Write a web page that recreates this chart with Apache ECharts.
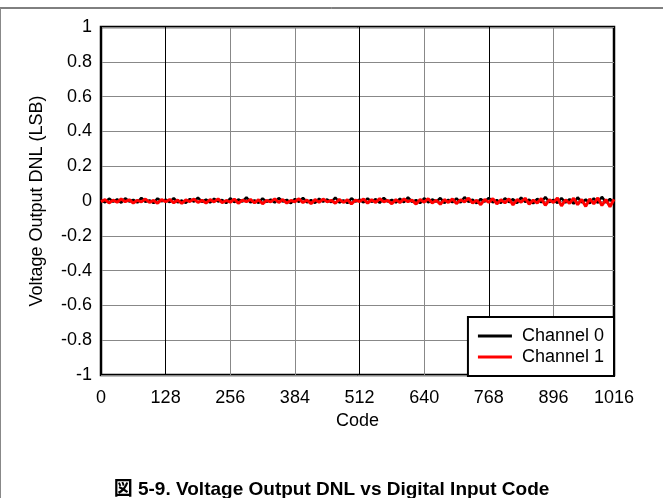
<!DOCTYPE html>
<html>
<head>
<meta charset="utf-8">
<script src="https://cdn.jsdelivr.net/npm/echarts@6/dist/echarts.min.js"></script>
<style>
html,body{margin:0;padding:0;background:#fff;}
#c{width:663px;height:498px;}
</style>
</head>
<body>
<div id="c"></div>
<script>
// Codes sampled every 8 codes from 0 to 1016
var codeStep = 8;
var codes = [];
for (var i = 0; i <= 1016; i += codeStep) codes.push(i);

var xTicks = [0, 128, 256, 384, 512, 640, 768, 896, 1016];
var yTicks = [-1, -0.8, -0.6, -0.4, -0.2, 0, 0.2, 0.4, 0.6, 0.8, 1];

var channel0 = [
0.006,-0.008,0.014,-0.004,0.010,-0.010,0.016,-0.003,0.007,-0.009,0.018,-0.005,0.004,-0.012,0.015,-0.002,
0.008,-0.007,0.017,-0.008,0.003,-0.011,0.012,-0.004,0.019,-0.005,0.008,-0.009,0.013,-0.003,0.006,-0.012,
0.016,-0.007,0.009,-0.004,0.021,-0.008,0.004,-0.011,0.015,-0.005,0.008,-0.009,0.017,-0.003,0.007,-0.013,
0.012,-0.005,0.018,-0.008,0.005,-0.011,0.013,-0.004,0.009,-0.007,0.020,-0.009,0.004,-0.012,0.016,-0.003,
0.008,-0.008,0.015,-0.005,0.011,-0.011,0.018,-0.004,0.007,-0.009,0.013,-0.007,0.021,-0.005,0.005,-0.012,
0.016,-0.008,0.009,-0.004,0.017,-0.011,0.007,-0.007,0.015,-0.009,0.022,-0.005,0.008,-0.013,0.012,-0.004,
0.018,-0.008,0.005,-0.011,0.016,-0.007,0.011,-0.012,0.020,-0.005,0.008,-0.014,0.013,-0.008,0.023,-0.007,
0.007,-0.012,0.017,-0.009,0.011,-0.016,0.021,-0.008,0.009,-0.013,0.016,-0.011,0.024,-0.009,0.012,-0.015
];
var channel1 = [
-0.003,0.008,-0.011,0.005,-0.007,0.012,-0.004,0.007,-0.012,0.004,-0.005,0.011,-0.008,0.003,-0.013,0.008,
-0.004,0.009,-0.010,0.005,-0.014,0.007,-0.003,0.011,-0.008,0.004,-0.012,0.008,-0.005,0.012,-0.009,0.003,
-0.007,0.011,-0.013,0.005,-0.004,0.009,-0.011,0.007,-0.016,0.004,-0.005,0.012,-0.008,0.008,-0.012,0.003,
-0.004,0.013,-0.009,0.005,-0.015,0.008,-0.007,0.011,-0.005,0.004,-0.013,0.009,-0.008,0.007,-0.017,0.005,
-0.003,0.011,-0.012,0.007,-0.008,0.014,-0.005,0.004,-0.016,0.008,-0.009,0.012,-0.004,0.005,-0.018,0.009,
-0.007,0.013,-0.011,0.004,-0.019,0.008,-0.008,0.012,-0.015,0.007,-0.005,0.016,-0.012,0.005,-0.021,0.009,
-0.008,0.014,-0.017,0.007,-0.011,0.013,-0.022,0.008,-0.007,0.016,-0.018,0.005,-0.012,0.014,-0.025,0.008,
-0.009,0.017,-0.028,0.007,-0.013,0.016,-0.021,0.009,-0.031,0.012,-0.016,0.018,-0.026,0.008,-0.033,0.010
];

function pairs(vals) {
  var out = [];
  for (var k = 0; k < codes.length; k++) out.push([codes[k], vals[k]]);
  return out;
}

var FONT = '"Liberation Sans", Arial, "Noto Sans CJK JP", sans-serif';

var chart = echarts.init(document.getElementById('c'), null, {renderer: 'canvas'});
chart.setOption({
  animation: false,
  backgroundColor: '#fff',
  textStyle: {fontFamily: FONT},
  title: {
    text: '図 5-9. Voltage Output DNL vs Digital Input Code',
    left: 'center',
    top: 480,
    padding: 0,
    textStyle: {fontFamily: FONT, fontSize: 19, fontWeight: 'bold', color: '#000'}
  },
  graphic: [
    {type: 'line', shape: {x1: 0, y1: 8, x2: 663, y2: 8}, style: {stroke: '#000', lineWidth: 1}, silent: true},
    {type: 'line', shape: {x1: 0.5, y1: 8, x2: 0.5, y2: 498}, style: {stroke: '#888', lineWidth: 1}, silent: true}
  ],
  grid: {
    left: 101, right: 49, top: 27, bottom: 123,
    show: true, borderColor: '#000', borderWidth: 2.5, backgroundColor: 'transparent'
  },
  legend: {
    orient: 'vertical',
    right: 49,
    bottom: 122,
    backgroundColor: '#fff',
    borderColor: '#000',
    borderWidth: 2,
    borderRadius: 0,
    padding: [10, 10, 10, 10],
    itemGap: 3,
    itemWidth: 34,
    itemHeight: 3,
    icon: 'rect',
    textStyle: {fontFamily: FONT, fontSize: 18, color: '#000', lineHeight: 18, padding: [0, 0, 0, 5]},
    data: ['Channel 0', 'Channel 1']
  },
  xAxis: {
    type: 'value',
    min: 0, max: 1016,
    name: 'Code',
    nameLocation: 'middle',
    nameGap: 35,
    nameTextStyle: {fontFamily: FONT, fontSize: 18, color: '#000'},
    axisLine: {show: false},
    axisTick: {show: false, customValues: xTicks},
    axisLabel: {
      customValues: xTicks, fontFamily: FONT, fontSize: 18, color: '#000', margin: 14,
      formatter: function (v) { return String(v); }
    },
    splitLine: {show: true, lineStyle: {color: ['#000', '#000', '#888', '#888', '#000', '#888', '#000', '#888', '#000'], width: 1}}
  },
  yAxis: {
    type: 'value',
    min: -1, max: 1, interval: 0.2,
    name: 'Voltage Output DNL (LSB)',
    nameLocation: 'middle',
    nameGap: 55,
    nameTextStyle: {fontFamily: FONT, fontSize: 18, color: '#000'},
    axisLine: {show: false},
    axisTick: {show: false},
    axisLabel: {
      fontFamily: FONT, fontSize: 18, color: '#000', margin: 9,
      formatter: function (v) { return String(Math.round(v * 10) / 10); }
    },
    splitLine: {show: true, lineStyle: {color: '#888', width: 1}}
  },
  series: [
    {
      name: 'Channel 0', type: 'line', data: pairs(channel0),
      symbol: 'none', showSymbol: false, lineStyle: {color: '#000', width: 2.5}, itemStyle: {color: '#000'}
    },
    {
      name: 'Channel 1', type: 'line', data: pairs(channel1),
      symbol: 'none', showSymbol: false, lineStyle: {color: '#ff0000', width: 3}, itemStyle: {color: '#ff0000'}
    }
  ]
});
</script>
</body>
</html>
